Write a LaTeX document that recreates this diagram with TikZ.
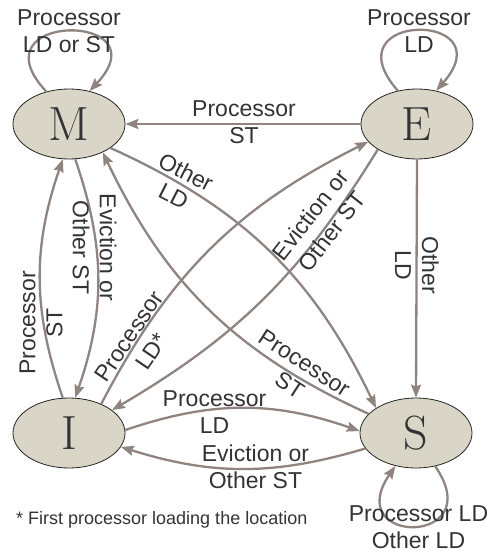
\documentclass[tikz,border=0pt]{standalone}
\usepackage{fontspec}
\newfontfamily\lblfont{Liberation Sans}
\usetikzlibrary{shapes.geometric,arrows.meta}
\definecolor{statefill}{RGB}{217,214,199}
\definecolor{edgecol}{RGB}{143,132,128}
\definecolor{txt}{RGB}{51,51,51}
\tikzset{
  state/.style={ellipse, draw=black!85, line width=0.8pt, fill=statefill,
    minimum width=112pt, minimum height=70pt, inner sep=0pt,
    font=\fontsize{48}{48}\selectfont, text=txt},
  tr/.style={draw=edgecol, line width=2.3pt,
    -{Stealth[length=13pt,width=10pt,inset=2pt]}},
  lbl/.style={font=\lblfont\fontsize{23}{27}\selectfont, text=txt,
    align=center, inner sep=0pt},
  note/.style={font=\lblfont\fontsize{18}{20}\selectfont, text=txt, inner sep=0pt}
}
\begin{document}
\begin{tikzpicture}[x=1pt,y=-1pt]
\useasboundingbox (0,0) rectangle (493,553);
\node[state] (M) at (69,124) {M};
\node[state] (E) at (417,124) {E};
\node[state] (I) at (69,433) {I};
\node[state] (S) at (416,433) {S};

% self loops
\draw[tr] (M.125) .. controls +(-75,-80) and +(75,-80) .. (M.58);
\draw[tr] (E.120) .. controls +(-70,-80) and +(70,-80) .. (E.60);
\draw[tr] (S.300) .. controls +(55,80) and +(-55,80) .. (S.238);

% straight
\draw[tr] (E.west) -- (M.east);
\draw[tr] (E.south) -- (S.north);

% diagonals
\draw[tr] (M.-30) to[bend left=20] (S.148);
\draw[tr] (S.158) to[bend left=20] (M.-40);
\draw[tr] (I.42) to[bend left=18] (E.200);
\draw[tr] (E.213) to[bend left=14] (I.28);

% verticals
\draw[tr] (I.100) to[bend left=19] (M.-100);
\draw[tr] (M.-80) to[bend left=19] (I.80);

% horizontals
\draw[tr] (I.3) to[bend left=19] (S.178);
\draw[tr] (S.197) to[bend left=17] (I.-15);

% labels
\node[lbl] (lM) at (69,31) {Processor\\LD or ST};
\node[lbl] (lE) at (419,31) {Processor\\LD};
\node[lbl] (lEM) at (244,122) {Processor\\ST};
\node[lbl, rotate=-27] (lMS) at (180,184) {Other\\LD};
\node[lbl, rotate=-33] (lSM) at (297,374) {Processor\\ST};
\node[lbl, rotate=56] (lIE) at (140,344) {Processor\\LD*};
\node[lbl, rotate=52] (lEI) at (321,223) {Eviction or\\Other ST};
\node[lbl, rotate=90] (lIM) at (41,323) {Processor\\ST};
\node[lbl, rotate=-90] (lMI) at (94.5,247.5) {Eviction or\\Other ST};
\node[lbl, rotate=-90] (lES) at (417,265) {Other\\LD};
\node[lbl] (lIS) at (214.5,412) {Processor\\LD};
\node[lbl] (lSI) at (255.5,467) {Eviction or\\Other ST};
\node[lbl] (lSS) at (418.5,527) {Processor LD\\Other LD};
\node[note, anchor=base west] (fn) at (16,524) {* First processor loading the location};
\end{tikzpicture}
\end{document}
